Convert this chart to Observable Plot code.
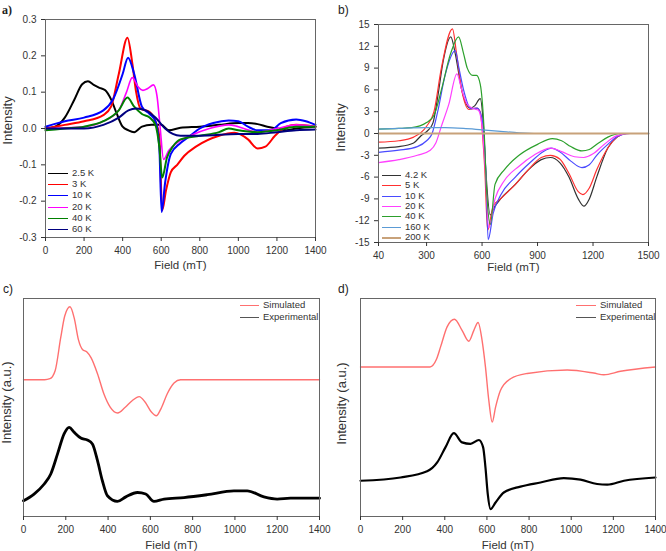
<!DOCTYPE html>
<html>
<head>
<meta charset="utf-8">
<script src="https://cdn.jsdelivr.net/npm/d3@7"></script>
<script src="https://cdn.jsdelivr.net/npm/@observablehq/plot@0.6"></script>
<style>
  html, body { margin: 0; padding: 0; background: #fff; }
  #root { position: relative; width: 666px; height: 551px; font-family: "Liberation Sans", Arial, sans-serif; color: #333; }
  .panel { position: absolute; }
  .tag { position: absolute; font-size: 12px; color: #222; }
  .legend { position: absolute; font-size: 9.5px; color: #333; line-height: 1; }
  .legend .row { position: absolute; white-space: nowrap; }
  .legend .sw { position: absolute; top: 50%; height: 0; }
  .legend .lb { position: absolute; top: -5px; }
</style>
</head>
<body>
<div id="root"></div>
<script>
// ---------- Panel a: field (mT) vs intensity ----------
const aTicksX = [0, 200, 400, 600, 800, 1000, 1200, 1400];
const aTicksY = [-0.3, -0.2, -0.1, 0.0, 0.1, 0.2, 0.3];
const aLabels = ["2.5 K", "3 K", "10 K", "20 K", "40 K", "60 K"];
const aColors = ["#000000", "#ff0000", "#0000ff", "#ff00ff", "#008000", "#000080"];
const a_2p5K = [[0,0],[50,0.005],[100,0.03],[150,0.08],[190,0.122],[220,0.13],[250,0.12],[280,0.112],[310,0.105],[340,0.08],[370,0.04],[400,0.005],[430,-0.005],[460,-0.01],[500,0.005],[550,0.01],[600,0.01],[640,-0.005],[700,0.002],[800,0.005],[900,0.01],[1000,0.015],[1050,0.015],[1100,0.012],[1150,0.005],[1200,0.0],[1250,-0.005],[1300,0.0],[1400,0.005]];
const a_3K = [[0,0],[100,0.01],[200,0.02],[300,0.037],[340,0.06],[380,0.15],[425,0.25],[450,0.18],[470,0.1],[492,0.055],[540,0.045],[570,0.02],[590,-0.02],[605,-0.225],[625,-0.17],[650,-0.12],[683,-0.1],[720,-0.075],[780,-0.05],[900,-0.02],[980,-0.012],[1050,-0.03],[1100,-0.055],[1140,-0.05],[1190,-0.02],[1250,0.005],[1300,0.01],[1400,0.005]];
const a_10K = [[0,0.005],[100,0.02],[200,0.03],[300,0.05],[350,0.08],[400,0.15],[428,0.195],[460,0.15],[500,0.06],[540,0.04],[570,0.02],[590,-0.05],[602,-0.23],[620,-0.15],[650,-0.07],[700,-0.04],[750,-0.02],[800,0.0],[870,0.015],[950,0.022],[1000,0.02],[1050,0.005],[1100,-0.005],[1170,-0.005],[1220,0.015],[1300,0.025],[1350,0.02],[1400,0.01]];
const a_20K = [[0,0],[200,0.005],[300,0.02],[380,0.05],[420,0.1],[450,0.14],[480,0.115],[505,0.105],[530,0.11],[560,0.12],[578,0.09],[595,0.0],[612,-0.085],[640,-0.06],[680,-0.04],[750,-0.02],[850,0.0],[950,0.01],[1000,0.005],[1100,-0.01],[1200,0.0],[1300,0.01],[1400,0.005]];
const a_40K = [[0,-0.005],[100,0],[200,0.005],[300,0.02],[380,0.05],[425,0.085],[460,0.06],[500,0.04],[540,0.03],[570,0.01],[590,-0.05],[605,-0.135],[630,-0.08],[660,-0.05],[700,-0.03],[800,-0.02],[900,-0.01],[950,0.0],[1000,-0.005],[1100,-0.01],[1200,-0.005],[1300,0.005],[1400,0.005]];
const a_60K = [[0,0],[200,0],[300,0.01],[380,0.03],[430,0.05],[470,0.055],[520,0.05],[570,0.03],[620,0.0],[660,-0.015],[700,-0.02],[800,-0.02],[1000,-0.015],[1100,-0.015],[1200,-0.01],[1300,-0.005],[1400,-0.003]];
const aSeries = [a_2p5K, a_3K, a_10K, a_20K, a_40K, a_60K];

// ---------- Panel b ----------
const bTicksX = [40, 300, 600, 900, 1200, 1500];
const bTicksY = [-15, -12, -9, -6, -3, 0, 3, 6, 9, 12, 15];
const bLabels = ["4.2 K", "5 K", "10 K", "20 K", "40 K", "160 K", "200 K"];
const bColors = ["#333333", "#ff3030", "#4a4aff", "#ff40ff", "#2ca02c", "#5b9bd5", "#c8a27a"];
const b_4p2K = [[40,-2.0],[150,-1.8],[230,-1.3],[270,-0.3],[310,0.5],[335,1.5],[360,5],[390,10],[431,13.3],[455,11],[490,6],[536,3.5],[560,3.8],[590,4.8],[605,2],[620,-5],[644,-11.2],[670,-10],[700,-9],[780,-7],[850,-5],[920,-3.6],[970,-3.3],[1020,-4],[1070,-6],[1120,-9],[1150,-10],[1180,-9],[1220,-6],[1280,-2],[1330,-0.5],[1380,0],[1500,0]];
const b_5K = [[40,-1.2],[150,-1.0],[230,-0.5],[300,1.0],[340,3],[380,9],[440,14.4],[462,11],[490,6],[530,3.3],[570,3.5],[590,3],[605,-1],[615,-5],[630,-13.3],[660,-10],[700,-9],[780,-7],[850,-5],[920,-3.3],[970,-3.0],[1020,-3.5],[1070,-5.5],[1120,-8],[1145,-8.4],[1180,-7.5],[1220,-5],[1280,-2],[1330,-0.5],[1380,0],[1500,0]];
const b_10K = [[40,-2.6],[150,-2.3],[250,-1.8],[300,-1.0],[330,0],[360,3],[400,8],[455,11.4],[475,9],[500,6],[540,3.4],[575,3.5],[600,2],[620,-5],[633,-14.6],[660,-11],[700,-8.5],[780,-6],[860,-4],[930,-2.5],[975,-2.0],[1020,-2.5],[1080,-3.8],[1140,-4.7],[1180,-4.3],[1220,-3],[1280,-1.5],[1340,-0.3],[1400,0],[1500,0]];
const b_20K = [[40,-4.0],[150,-3.6],[250,-3.0],[320,-2.3],[350,-1.3],[380,1],[420,4],[464,8.2],[490,6],[520,4],[555,3.4],[580,3.2],[600,1],[620,-6],[636,-13],[670,-9],[720,-6.5],[800,-4.5],[880,-3],[970,-2.0],[1030,-2.5],[1100,-3.2],[1150,-3.3],[1200,-2.8],[1260,-1.5],[1330,-0.3],[1400,0],[1500,0]];
const b_40K = [[40,0.6],[150,0.7],[220,0.8],[300,1.5],[340,2.5],[380,6],[430,11],[473,13.3],[500,11],[520,9],[550,8],[570,8.0],[590,6.8],[610,1],[625,-8],[645,-12.5],[670,-7],[720,-5],[800,-3],[900,-1.5],[980,-0.7],[1030,-1.0],[1080,-1.8],[1140,-2.4],[1180,-2.2],[1230,-1.3],[1280,-0.5],[1350,0],[1500,0]];
const b_160K = [[40,0.6],[150,0.7],[300,0.8],[400,0.8],[500,0.7],[600,0.5],[700,0.3],[800,0.1],[900,0],[1500,0]];
const b_200K = [[40,0],[300,0],[600,0],[900,0],[1200,0],[1500,0]];
const bSeries = [b_4p2K, b_5K, b_10K, b_20K, b_40K, b_160K, b_200K];

// ---------- Panels c & d (arbitrary units) ----------
const cdTicksX = [0, 200, 400, 600, 800, 1000, 1200, 1400];
const cdLabels = ["Simulated", "Experimental"];
const cdColors = ["#ff7070", "#000000"];
const c_sim = [[0,62.7],[100,62.7],[125,63.2],[150,67],[176,82],[195,92],[220,96.2],[240,91],[260,81],[280,76.5],[300,75.5],[320,72.8],[350,65.5],[380,56.3],[410,50.2],[445,47.5],[480,50],[515,53.2],[547,55],[575,52.5],[605,47.9],[628,46.2],[650,49.4],[680,56.3],[712,61.2],[743,62.7],[1400,62.7]];
const c_exp = [[0,7.2],[50,10.3],[98,14.9],[129,19.5],[161,28.7],[192,37.9],[216,40.9],[239,38.7],[271,36.0],[302,35.1],[326,33.3],[350,25.6],[373,16.4],[397,9.5],[444,6.9],[484,9.0],[539,11.0],[578,10.3],[617,6.9],[665,8.0],[759,8.7],[869,10.0],[995,11.8],[1058,11.8],[1137,9.0],[1200,8.0],[1263,8.4],[1400,8.4]];
const d_sim = [[0,68.6],[330,68.6],[360,72],[380,77.8],[411,87],[446,90.5],[482,85.4],[514,80.4],[538,85.4],[558,89],[577,80.8],[593,68.6],[609,53.2],[625,43.3],[641,50.2],[664,57.8],[712,63.2],[791,65.6],[981,67.2],[1107,65.8],[1155,65],[1234,66.6],[1400,68.6]];
const d_exp = [[0,16.4],[190,17.9],[316,20.7],[364,24.8],[403,31.7],[443,38.2],[482,34],[522,33.3],[562,35.1],[582,31.7],[593,22.5],[604,10.3],[617,3.4],[641,6.4],[680,11.0],[759,13.7],[854,15.6],[965,17.6],[1044,16.9],[1123,14.9],[1171,14.6],[1250,16.4],[1400,17.9]];

const root = document.getElementById("root");
const FONT = "'Liberation Sans', Arial, sans-serif";
const plain = d => String(d);

function place(el, left, top) {
  const wrap = document.createElement("div");
  wrap.className = "panel";
  wrap.style.left = left + "px";
  wrap.style.top = top + "px";
  wrap.appendChild(el);
  root.appendChild(wrap);
}
function tag(text, left, top, serif) {
  const d = document.createElement("div");
  d.className = "tag";
  d.textContent = text;
  d.style.left = left + "px";
  d.style.top = top + "px";
  if (serif) { d.style.fontFamily = "'Liberation Serif', serif"; d.style.fontWeight = "bold"; }
  root.appendChild(d);
}
function legend(labels, colors, left, top, step, swW, widths) {
  const lg = document.createElement("div");
  lg.className = "legend";
  lg.style.left = left + "px";
  lg.style.top = top + "px";
  labels.forEach((lab, i) => {
    const r = document.createElement("div");
    r.className = "row";
    r.style.top = (i * step) + "px";
    const sw = document.createElement("div");
    sw.className = "sw";
    sw.style.left = "0px";
    sw.style.width = swW + "px";
    sw.style.top = "0px";
    sw.style.borderTop = (widths ? widths[i] : 1.5) + "px solid " + colors[i];
    const lb = document.createElement("div");
    lb.className = "lb";
    lb.style.left = (swW + 4) + "px";
    lb.textContent = lab;
    r.appendChild(sw); r.appendChild(lb);
    lg.appendChild(r);
  });
  root.appendChild(lg);
}

function seriesMarks(series, colors, widths) {
  return series.map((s, i) => Plot.line(s, {x: d => d[0], y: d => d[1], stroke: colors[i], strokeWidth: widths[i], curve: "monotone-x"}));
}
function yTitle(text, dx, dy) {
  return Plot.text([text], {frameAnchor: "left", rotate: -90, textAnchor: "middle", lineAnchor: "middle", dx, dy, fontSize: 13, fill: "#333"});
}
function xTitle(text, dy) {
  return Plot.text([text], {frameAnchor: "bottom", textAnchor: "middle", lineAnchor: "middle", dy, fontSize: 11.5, fill: "#333"});
}

// Panel a
const plotA = Plot.plot({
  width: 333, height: 280,
  marginLeft: 45, marginRight: 18, marginTop: 19, marginBottom: 43,
  style: {fontFamily: FONT, fontSize: "10px", color: "#333", background: "transparent"},
  x: {domain: [0, 1400], label: null},
  y: {domain: [-0.3, 0.3], label: null},
  marks: [
    ...seriesMarks(aSeries, aColors, [2, 2, 2, 1.6, 2, 2]),
    Plot.frame({stroke: "#666"}),
    Plot.axisX({ticks: aTicksX, tickSize: 4, tickFormat: plain, label: null}),
    Plot.axisY({ticks: aTicksY, tickSize: 4, tickFormat: d => d.toFixed(1), label: null}),
    yTitle("Intensity", -38, -8),
    xTitle("Field (mT)", 28)
  ]
});
place(plotA, 0, 0);

// Panel b
const plotB = Plot.plot({
  width: 333, height: 280,
  marginLeft: 45, marginRight: 18, marginTop: 24, marginBottom: 38,
  style: {fontFamily: FONT, fontSize: "10px", color: "#333", background: "transparent"},
  x: {domain: [40, 1500], label: null},
  y: {domain: [-15, 15], label: null},
  marks: [
    ...seriesMarks(bSeries, bColors, [1.2, 1.2, 1.2, 1.2, 1.2, 1.2, 2.2]),
    Plot.frame({stroke: "#666"}),
    Plot.axisX({ticks: bTicksX, tickSize: 4, tickFormat: plain, label: null}),
    Plot.axisY({ticks: bTicksY, tickSize: 4, tickFormat: plain, label: null}),
    yTitle("Intensity", -38, -6),
    xTitle("Field (mT)", 25)
  ]
});
place(plotB, 333, 0);

// Panel c
const plotC = Plot.plot({
  width: 333, height: 271,
  marginLeft: 23, marginRight: 14, marginTop: 18, marginBottom: 35,
  style: {fontFamily: FONT, fontSize: "10px", color: "#333", background: "transparent"},
  x: {domain: [0, 1400], label: null},
  y: {domain: [0, 100], label: null, axis: null},
  marks: [
    Plot.line(c_sim, {x: d => d[0], y: d => d[1], stroke: cdColors[0], strokeWidth: 1.4, curve: "monotone-x"}),
    Plot.line(c_exp, {x: d => d[0], y: d => d[1], stroke: cdColors[1], strokeWidth: 2.8, curve: "monotone-x"}),
    Plot.frame({stroke: "#666"}),
    Plot.axisX({ticks: cdTicksX, tickSize: 4, tickFormat: plain, label: null}),
    yTitle("Intensity (a.u.)", -17, -5),
    xTitle("Field (mT)", 29)
  ]
});
place(plotC, 0, 280);

// Panel d
const plotD = Plot.plot({
  width: 333, height: 271,
  marginLeft: 27, marginRight: 11, marginTop: 18, marginBottom: 35,
  style: {fontFamily: FONT, fontSize: "10px", color: "#333", background: "transparent"},
  x: {domain: [0, 1400], label: null},
  y: {domain: [0, 100], label: null, axis: null},
  marks: [
    Plot.line(d_sim, {x: d => d[0], y: d => d[1], stroke: cdColors[0], strokeWidth: 1.4, curve: "monotone-x"}),
    Plot.line(d_exp, {x: d => d[0], y: d => d[1], stroke: cdColors[1], strokeWidth: 2.2, curve: "monotone-x"}),
    Plot.frame({stroke: "#666"}),
    Plot.axisX({ticks: cdTicksX, tickSize: 4, tickFormat: plain, label: null}),
    yTitle("Intensity (a.u.)", -19, -4),
    xTitle("Field (mT)", 29)
  ]
});
place(plotD, 333, 280);

// Panel tags
tag("a)", 2, 3, true);
tag("b)", 338, 3);
tag("c)", 3, 282);
tag("d)", 338, 282);

// Legends
legend(aLabels, aColors, 48, 173, 11.2, 20, [1.6,1.6,1.6,1.6,1.6,1.6]);
legend(bLabels, bColors, 382, 175, 10.3, 19, [1.2,1.2,1.2,1.2,1.2,1.2,2]);
legend(cdLabels, ["#ff7070", "#555"], 240, 305, 12, 19, [1.2, 1.2]);
legend(cdLabels, ["#ff7070", "#555"], 576, 305, 12, 20, [1.2, 1.2]);
</script>
</body>
</html>
